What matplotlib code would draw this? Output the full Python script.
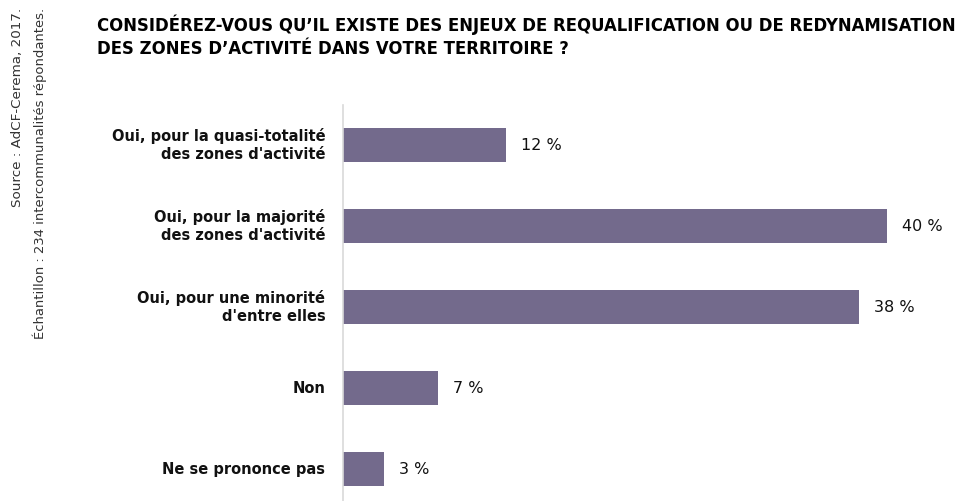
import numpy as np
import matplotlib.pyplot as plt

# data
categories = ["Oui, pour la quasi-totalité\ndes zones d'activité",
              "Oui, pour la majorité\ndes zones d'activité",
              "Oui, pour une minorité\nd'entre elles",
              "Non",
              "Ne se prononce pas"]
values = [12, 40, 38, 7, 3]
value_labels = ["12 %", "40 %", "38 %", "7 %", "3 %"]

title_lines = ["CONSIDÉREZ-VOUS QU’IL EXISTE DES ENJEUX DE REQUALIFICATION OU DE REDYNAMISATION",
               "DES ZONES D’ACTIVITÉ DANS VOTRE TERRITOIRE ?"]
source_lines = ["Source : AdCF-Cerema, 2017.",
                "Échantillon : 234 intercommunalités répondantes."]

bar_color = '#736a8c'
W, H = 960, 501

fig = plt.figure(figsize=(W / 100, H / 100), dpi=100)
renderer = fig.canvas.get_renderer()


def fit_text(t, target_px, vertical=False):
    """shrink/grow the font so the text spans target_px"""
    bb = t.get_window_extent(renderer)
    size = bb.height if vertical else bb.width
    t.set_fontsize(t.get_fontsize() * target_px / size)


ax = fig.add_axes([343 / W, 0, 1 - 343 / W, (H - 105) / H])

y = np.arange(len(categories))
ax.barh(y, values, height=0.43, color=bar_color)
ax.set_xlim(0, 45.4)
ax.set_ylim(4.395, -0.494)

for yi, v, lab in zip(y, values, value_labels):
    ax.text(v + 1.1, yi, lab, va='center', ha='left', fontsize=11.5,
            family='DejaVu Sans', color='#111111')

# category labels on the left
for yi, cat in zip(y, categories):
    ax.text(-1.3, yi, cat, va='center', ha='right', fontsize=10.5,
            fontweight='bold', family='DejaVu Sans', linespacing=1.3,
            color='#111111')

for s in ['top', 'right', 'bottom']:
    ax.spines[s].set_visible(False)
ax.spines['left'].set_color('#d9d9d9')
ax.spines['left'].set_linewidth(1.2)
ax.set_xticks([])
ax.set_yticks([])

# title, two lines, first one stretched to the reference width
t1 = fig.text(97 / W, 1 - 31 / H, title_lines[0], ha='left', va='baseline',
              fontsize=13, fontweight='bold', family='DejaVu Sans', color='#000000')
fit_text(t1, 856)
fig.text(97 / W, 1 - 54 / H, title_lines[1], ha='left', va='baseline',
         fontsize=t1.get_fontsize(), fontweight='bold', family='DejaVu Sans',
         color='#000000')

# rotated source on the left side
s1 = fig.text(18 / W, 1 - 8 / H, source_lines[0], rotation=90, ha='center', va='top',
              fontsize=10, family='DejaVu Sans', color='#333333')
fit_text(s1, 198, vertical=True)
s2 = fig.text(40 / W, 1 - 8 / H, source_lines[1], rotation=90, ha='center', va='top',
              fontsize=10, family='DejaVu Sans', color='#333333')
fit_text(s2, 329, vertical=True)

fig.savefig('out.png', dpi=100)
